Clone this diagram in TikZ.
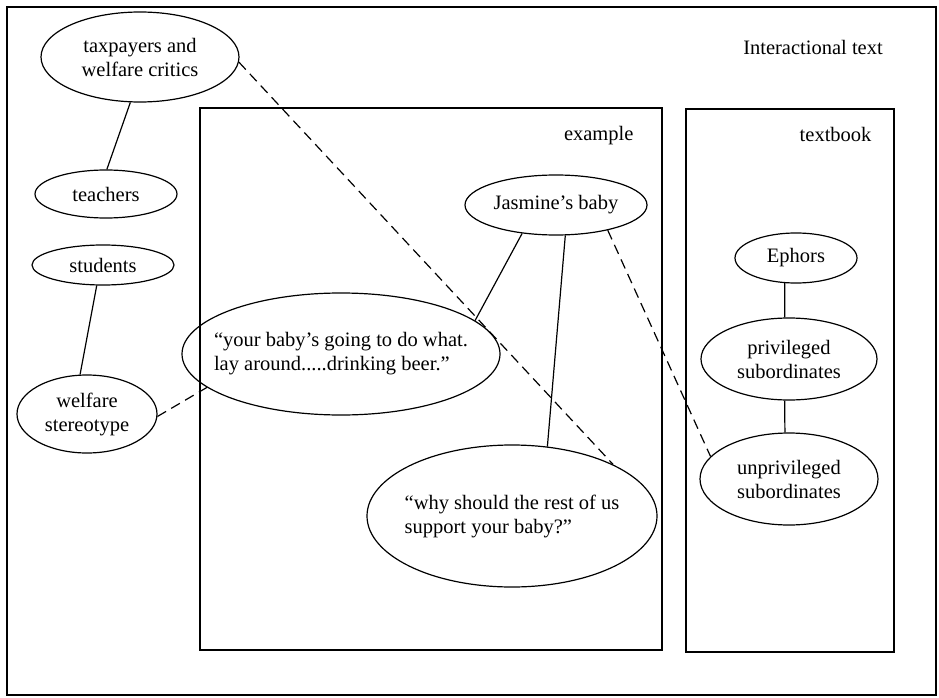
\documentclass[tikz,border=0pt]{standalone}
\usepackage{fontspec}
\setmainfont{Liberation Serif}
\usetikzlibrary{shapes.geometric}
\begin{document}
\begin{tikzpicture}[x=1pt,y=-1pt,
  every node/.style={font=\fontsize{20.5}{24}\selectfont},
  ell/.style={ellipse,draw,line width=1.2pt,inner sep=-150pt},
  boxline/.style={draw,line width=1.3pt},
  link/.style={line width=1.2pt},
  dlink/.style={line width=1.2pt,dash pattern=on 10pt off 6pt}]
\useasboundingbox (0,0) rectangle (939,698);
% frames
\draw[boxline] (7,7) rectangle (936,695);
\draw[boxline] (200,108) rectangle (662,650);
\draw[boxline] (686,109) rectangle (894,652);
% labels
\node[anchor=base] (lbl) at (813,55) {Interactional text};
\node[anchor=base east] (lex) at (637,140) {example};
\node[anchor=base east] (ltb) at (875,141) {textbook};
% ellipses
\node[ell,minimum width=198pt,minimum height=90pt,align=center] (tax) at (140,57) {taxpayers and\\welfare critics};
\node[ell,minimum width=142pt,minimum height=48pt] (teach) at (106,194) {teachers};
\node[ell,minimum width=142pt,minimum height=40pt] (stud) at (103,265) {students};
\node[ell,minimum width=140pt,minimum height=78pt,align=center] (wel) at (87,414) {welfare\\stereotype};
\node[ell,minimum width=318pt,minimum height=122pt,align=left] (yb) at (341,354) {“your baby’s going to do what.\\lay around.....drinking beer.”};
\node[ell,minimum width=290pt,minimum height=142pt,align=left] (why) at (512,516) {“why should the rest of us\\support your baby?”};
\node[ell,minimum width=182pt,minimum height=60pt] (jas) at (556,205) {Jasmine’s baby};
\node[ell,minimum width=122pt,minimum height=50pt] (eph) at (796,258) {Ephors};
\node[ell,minimum width=176pt,minimum height=82pt,align=center] (priv) at (789,359) {privileged\\subordinates};
\node[ell,minimum width=178pt,minimum height=92pt,align=center] (unpriv) at (789,479) {unprivileged\\subordinates};
% connectors
\draw[link] (tax.-102) -- (teach.88);
\draw[link] (stud.-107) -- (wel.100);
\draw[dlink] (wel.-2) -- (yb.194);
\draw[dlink] (tax.-3) -- (why.27);
\draw[link] (jas.220) -- (yb.14);
\draw[link] (jas.-73) -- (why.63);
\draw[dlink] (jas.-26) -- (unpriv.164);
\draw[link] (eph.-114) -- (priv.96);
\draw[link] (priv.-96) -- (unpriv.95);
\end{tikzpicture}
\end{document}
